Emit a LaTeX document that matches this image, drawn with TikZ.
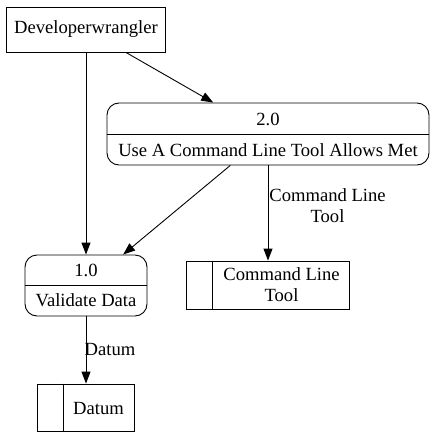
\documentclass[tikz,border=0pt]{standalone}
\usepackage{fontspec}
\setmainfont{Liberation Serif}
\usepackage{tikz}
\usetikzlibrary{arrows.meta, positioning, calc}

\begin{document}
\begin{tikzpicture}[x=1pt, y=-1pt, line width=0.9pt,
    every node/.style={font=\fontsize{18.6}{21}\selectfont, inner sep=0pt},
    entity/.style={rectangle, draw, minimum width=159pt, minimum height=45pt},
    process/.style={rectangle, draw, rounded corners=12pt},
    store/.style={rectangle, draw},
    flow/.style={-{Triangle[length=12pt, width=9pt]}}]
    \useasboundingbox (0,0) rectangle (435,439);

    % external entity
    \node[entity] (dev) at (86,29.5) {Developerwrangler};

    % process 2.0
    \node[process, minimum width=322pt, minimum height=62pt] (p2) at (268,134) {};
    \draw (p2.west) -- (p2.east);
    \node (p2num) at (268,119) {2.0};
    \node (p2name) at (268,150) {Use A Command Line Tool Allows Met};

    % process 1.0
    \node[process, minimum width=122pt, minimum height=61pt] (p1) at (86,285.5) {};
    \draw (p1.west) -- (p1.east);
    \node (p1num) at (86,270) {1.0};
    \node (p1name) at (86,300) {Validate Data};

    % data stores
    \node[store, minimum width=163pt, minimum height=48pt] (clt) at (268,285) {};
    \draw ([xshift=26pt]clt.north west) -- ([xshift=26pt]clt.south west);
    \node[align=center] (cltname) at (281.5,285) {Command Line\\Tool};

    \node[store, minimum width=97pt, minimum height=47pt] (dat) at (86,407.5) {};
    \draw ([xshift=26pt]dat.north west) -- ([xshift=26pt]dat.south west);
    \node (datname) at (98.5,408) {Datum};

    % data flows
    \draw[flow] (dev) -- (p1);
    \draw[flow] (dev) -- (p2);
    \draw[flow] (p2) -- (p1);
    \draw[flow] (p2) -- (clt);
    \draw[flow] (p1) -- (dat);
    \node[align=center] (cltflow) at (327.5,206) {Command Line\\Tool};
    \node (datflow) at (110,349) {Datum};
\end{tikzpicture}
\end{document}
